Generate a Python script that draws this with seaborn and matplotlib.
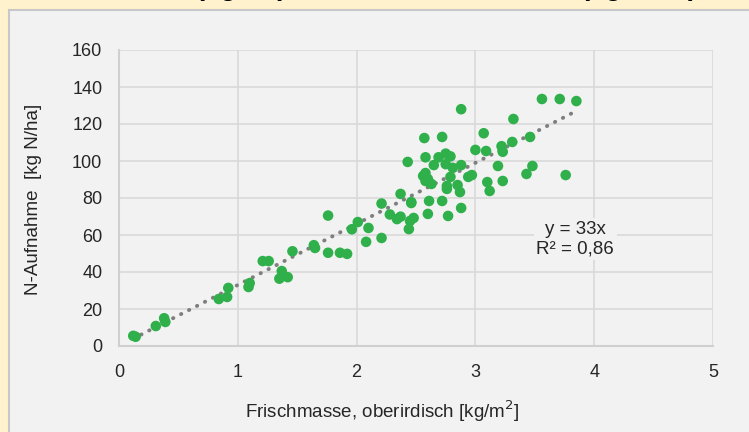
"""Frischmasse vs. N-Aufnahme scatter."""
import pandas as pd
import numpy as np
import matplotlib
matplotlib.use("Agg")
import matplotlib.pyplot as plt
import seaborn as sns
from matplotlib.patches import Rectangle

# fresh mass above ground [kg/m2]
frischmasse = [
    0.12, 0.14, 0.31, 0.38, 0.39, 0.84, 0.91, 0.92, 1.09, 1.10,
    1.21, 1.26, 1.37, 1.35, 1.42, 1.46, 1.64, 1.65, 1.76, 1.76,
    1.86, 1.92, 1.96, 2.01, 2.10, 2.08, 2.21, 2.21, 2.28, 2.34,
    2.37, 2.44, 2.45, 2.48, 2.46,
    3.56, 3.71, 3.85, 2.88, 3.32, 3.07, 2.57, 2.72, 3.46, 3.31,
    3.22, 3.23, 3.00, 3.09, 2.43, 2.58, 2.69, 2.75, 2.79, 2.65,
    2.75, 2.88, 2.81, 3.19, 3.48, 3.43, 3.76, 2.58, 2.56, 2.58,
    2.60, 2.63, 2.79, 2.76, 2.76, 2.85, 2.87, 2.94, 2.97, 3.10,
    3.23, 3.12, 2.37, 2.46, 2.61, 2.72, 2.88, 2.60, 2.77,
]
# N uptake [kg N/ha]
n_aufnahme = [
    5.5, 5.0, 10.8, 15.0, 13.0, 25.4, 26.5, 31.4, 31.9, 34.0,
    45.9, 45.9, 40.5, 36.4, 37.2, 51.2, 54.5, 53.0, 70.5, 50.4,
    50.4, 49.8, 63.1, 67.0, 63.8, 56.3, 58.4, 77.0, 71.1, 68.6,
    69.9, 63.2, 67.6, 69.2, 77.3,
    133.5, 133.5, 132.4, 128.0, 122.7, 115.0, 112.4, 113.0, 113.0, 110.3,
    108.0, 105.0, 106.0, 105.4, 99.5, 102.0, 102.0, 104.0, 102.5, 97.8,
    98.3, 97.8, 96.3, 97.3, 97.3, 93.0, 92.4, 93.5, 91.9, 89.2,
    90.3, 87.6, 91.4, 86.5, 84.9, 87.0, 83.2, 91.4, 92.4, 88.6,
    89.2, 83.8, 82.2, 77.8, 78.4, 78.4, 74.6, 71.4, 70.3,
]
slope = 33
r2_text = "y = 33x\nR² = 0,86"

x_ticks = [0, 1, 2, 3, 4, 5]
y_ticks = [0, 20, 40, 60, 80, 100, 120, 140, 160]

df = pd.DataFrame({"x": frischmasse, "y": n_aufnahme})
x_line = np.array([min(frischmasse), max(frischmasse)])
trend = pd.DataFrame({"x": x_line, "y": slope * x_line})

sns.set_style("white")
plt.rcParams["font.family"] = ["Liberation Sans", "DejaVu Sans"]

panel = "#F2F2F2"
fig = plt.figure(figsize=(7.49, 4.32), dpi=100, facecolor="#FFF2CC")
bg = Rectangle((9 / 749, -0.1), 1.1, (432 - 10) / 432 + 0.1,
               transform=fig.transFigure, facecolor=panel,
               edgecolor="#C8C8C8", linewidth=1.5, zorder=-5)
fig.patches.append(bg)

# title sits above the visible area, only the descenders show
title_y = 1 + 5 / 432
fig.text(286 / 749, title_y, "Frischmasse (kg/m²)", ha="right", va="baseline",
         fontsize=19.5, fontweight="bold", color="black", zorder=-4)
fig.text(697 / 749, title_y, "und N-Aufnahme (kg N/ha)", ha="right", va="baseline",
         fontsize=19.5, fontweight="bold", color="black", zorder=-4)

ax = fig.add_axes([119 / 749, 86 / 432, 594 / 749, 296 / 432])
ax.set_zorder(2)
ax.set_facecolor(panel)

sns.lineplot(data=trend, x="x", y="y", ax=ax, color="#7F7F7F",
             linestyle=(0, (0.1, 2.2)), linewidth=2.8, dash_capstyle="round",
             zorder=2)
sns.scatterplot(data=df, x="x", y="y", ax=ax, color="#2FB04B", s=58,
                edgecolor="none", zorder=3)

ax.set_xlim(0, 5)
ax.set_ylim(0, 160)
ax.set_xticks(x_ticks)
ax.set_yticks(y_ticks)
ax.grid(True, color="#D9D9D9", linewidth=1.2)
ax.set_axisbelow(True)
for s in ["top", "right"]:
    ax.spines[s].set_visible(False)
for s in ["left", "bottom"]:
    ax.spines[s].set_color("#D0D0D0")
    ax.spines[s].set_linewidth(1.5)
ax.tick_params(axis="x", length=5, color="#D0D0D0", width=1.2, labelsize=13,
               pad=8)
ax.tick_params(axis="y", length=0, labelsize=13, pad=12)

ax.set_xlabel("Frischmasse, oberirdisch [kg/m$^2$]", fontsize=13.5)
ax.set_ylabel("N-Aufnahme  [kg N/ha]", fontsize=13.5)
ax.xaxis.set_label_coords(0.443, -53 / 296)
ax.yaxis.set_label_coords(-77 / 594, 0.497)

ax.text(3.84, 57.8, r2_text, ha="center", va="center", fontsize=13.5,
        linespacing=1.15, zorder=4,
        bbox=dict(facecolor=panel, edgecolor="none", pad=2))

fig.savefig("out.png", dpi=100, facecolor=fig.get_facecolor())
